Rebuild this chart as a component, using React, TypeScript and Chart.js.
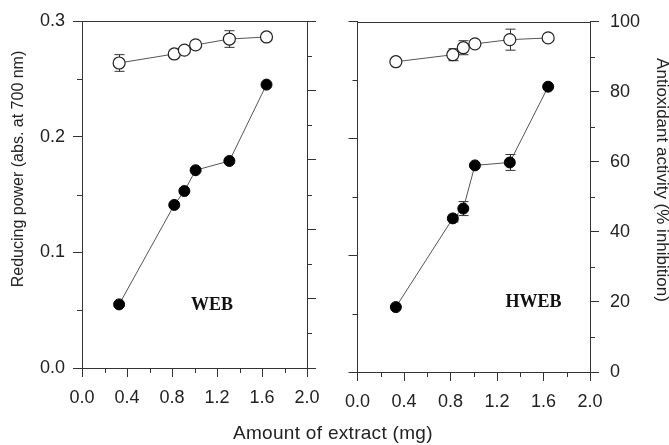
import React, { useEffect, useRef } from "react";
import { Chart, registerables } from "chart.js";

Chart.register(...registerables);

// ---- data ----
const extractAmounts = [0.33, 0.82, 0.91, 1.01, 1.31, 1.64];

const webReducing = [0.055, 0.141, 0.153, 0.171, 0.179, 0.245];
const webReducingErr = [0, 0, 0, 0, 0, 0];
const webAntioxidant = [87.9, 90.5, 91.6, 93.1, 94.8, 95.4];
const webAntioxidantErr = [2.4, 0, 0, 0, 2.4, 0];

const hwebReducing = [0.0556, 0.1316, 0.14, 0.177, 0.1795, 0.2444];
const hwebReducingErr = [0, 0.003, 0.006, 0, 0.0068, 0];
const hwebAntioxidant = [88.6, 90.6, 92.6, 93.7, 94.9, 95.4];
const hwebAntioxidantErr = [0, 1.7, 2.0, 0, 3.0, 0];

const xTicks = [0, 0.4, 0.8, 1.2, 1.6, 2.0];
const xMinorTicks = [0.2, 0.6, 1.0, 1.4, 1.8];
const reducingTicks = [0, 0.1, 0.2, 0.3];
const reducingMinorTicks = [0.05, 0.15, 0.25];
const antioxTicks = [0, 20, 40, 60, 80, 100];
const antioxMinorTicks = [10, 30, 50, 70, 90];

const panelNames = ["WEB", "HWEB"];

// ---- styling ----
const AXIS = "#333";
const LINE = "#555";
const SANS = "'Liberation Sans', Arial, Helvetica, sans-serif";
const SERIF = "'Liberation Serif', 'Times New Roman', serif";

type PanelSpec = {
  name: string;
  reducing: number[];
  reducingErr: number[];
  antiox: number[];
  antioxErr: number[];
  leftLabels: boolean;
  rightLabels: boolean;
  leftW: number;
  rightW: number;
  xH: number;
  labelAt: [number, number];
};

function makeDecorPlugin(spec: PanelSpec) {
  const errs = [spec.reducingErr, spec.antioxErr];
  return {
    id: "panelDecor",
    beforeDatasetsDraw(chart: any) {
      const ctx = chart.ctx;
      const xs = chart.scales.x;
      ctx.save();
      ctx.strokeStyle = AXIS;
      ctx.lineWidth = 1;
      chart.data.datasets.forEach((ds: any, i: number) => {
        const ys = chart.scales[ds.yAxisID];
        const e = errs[i];
        ds.data.forEach((p: any, j: number) => {
          const err = e[j];
          if (!err) return;
          const px = Math.round(xs.getPixelForValue(p.x)) + 0.5;
          const t = ys.getPixelForValue(p.y + err);
          const b = ys.getPixelForValue(p.y - err);
          ctx.beginPath();
          ctx.moveTo(px, t);
          ctx.lineTo(px, b);
          ctx.moveTo(px - 5, t);
          ctx.lineTo(px + 5, t);
          ctx.moveTo(px - 5, b);
          ctx.lineTo(px + 5, b);
          ctx.stroke();
        });
      });
      ctx.restore();
    },
    afterDraw(chart: any) {
      const ctx = chart.ctx;
      const a = chart.chartArea;
      const xs = chart.scales.x;
      const y1 = chart.scales.y;
      const y2 = chart.scales.y2;
      ctx.save();
      ctx.strokeStyle = AXIS;
      ctx.lineWidth = 1;
      ctx.beginPath();
      // top frame line
      const top = Math.round(a.top) + 0.5;
      ctx.moveTo(a.left, top);
      ctx.lineTo(a.right, top);
      // minor ticks
      const L = 5;
      xMinorTicks.forEach((v) => {
        const px = Math.round(xs.getPixelForValue(v)) + 0.5;
        ctx.moveTo(px, a.bottom);
        ctx.lineTo(px, a.bottom + L);
      });
      reducingMinorTicks.forEach((v) => {
        const py = Math.round(y1.getPixelForValue(v)) + 0.5;
        ctx.moveTo(a.left, py);
        ctx.lineTo(a.left - L, py);
      });
      antioxMinorTicks.forEach((v) => {
        const py = Math.round(y2.getPixelForValue(v)) + 0.5;
        ctx.moveTo(a.right, py);
        ctx.lineTo(a.right + L, py);
      });
      ctx.stroke();
      // panel label
      ctx.fillStyle = "#111";
      ctx.font = `bold 18px ${SERIF}`;
      ctx.textAlign = "center";
      ctx.textBaseline = "middle";
      ctx.fillText(
        spec.name,
        xs.getPixelForValue(spec.labelAt[0]),
        y1.getPixelForValue(spec.labelAt[1])
      );
      ctx.restore();
    },
  };
}

function makeChart(canvas: HTMLCanvasElement, spec: PanelSpec) {
  const tickFont = { family: SANS, size: 18 };
  return new Chart(canvas, {
    type: "line",
    data: {
      datasets: [
        {
          label: "Reducing power",
          yAxisID: "y",
          data: extractAmounts.map((x, i) => ({ x, y: spec.reducing[i] })),
          borderColor: LINE,
          borderWidth: 1,
          pointRadius: 5.5,
          pointBackgroundColor: "#000",
          pointBorderColor: "#000",
          pointBorderWidth: 1,
          showLine: true,
          fill: false,
          tension: 0,
        },
        {
          label: "Antioxidant activity",
          yAxisID: "y2",
          data: extractAmounts.map((x, i) => ({ x, y: spec.antiox[i] })),
          borderColor: LINE,
          borderWidth: 1,
          pointRadius: 6,
          pointBackgroundColor: "#fff",
          pointBorderColor: "#222",
          pointBorderWidth: 1.2,
          showLine: true,
          fill: false,
          tension: 0,
        },
      ],
    },
    options: {
      animation: false,
      responsive: false,
      devicePixelRatio: 1,
      clip: false as any,
      layout: { padding: { top: 21, left: 0, right: 0, bottom: 0 } },
      plugins: {
        legend: { display: false },
        tooltip: { enabled: false },
        title: { display: false },
      },
      scales: {
        x: {
          type: "linear",
          position: "bottom",
          min: 0,
          max: 2,
          afterBuildTicks: (s: any) => {
            s.ticks = xTicks.map((v) => ({ value: v }));
          },
          afterFit: (s: any) => {
            s.height = spec.xH;
          },
          ticks: {
            font: tickFont,
            color: "#222",
            padding: 10,
            maxRotation: 0,
            autoSkip: false,
            callback: (v: any) => Number(v).toFixed(1),
          },
          grid: {
            drawOnChartArea: false,
            drawTicks: true,
            tickLength: 9,
            color: AXIS,
          },
          border: { display: true, color: AXIS, width: 1 },
        },
        y: {
          type: "linear",
          position: "left",
          min: 0,
          max: 0.3,
          afterBuildTicks: (s: any) => {
            s.ticks = reducingTicks.map((v) => ({ value: v }));
          },
          afterFit: (s: any) => {
            s.width = spec.leftW;
          },
          ticks: {
            display: spec.leftLabels,
            font: tickFont,
            color: "#222",
            padding: 8,
            autoSkip: false,
            callback: (v: any) => Number(v).toFixed(1),
          },
          grid: {
            drawOnChartArea: false,
            drawTicks: true,
            tickLength: 9,
            color: AXIS,
          },
          border: { display: true, color: AXIS, width: 1 },
        },
        y2: {
          type: "linear",
          position: "right",
          min: 0,
          max: 100,
          afterBuildTicks: (s: any) => {
            s.ticks = antioxTicks.map((v) => ({ value: v }));
          },
          afterFit: (s: any) => {
            s.width = spec.rightW;
          },
          ticks: {
            display: spec.rightLabels,
            font: tickFont,
            color: "#222",
            padding: 11,
            autoSkip: false,
            callback: (v: any) => String(v),
          },
          grid: {
            drawOnChartArea: false,
            drawTicks: true,
            tickLength: 9,
            color: AXIS,
          },
          border: { display: true, color: AXIS, width: 1 },
        },
      },
    } as any,
    plugins: [makeDecorPlugin(spec)],
  });
}

export default function App() {
  const refA = useRef<HTMLCanvasElement | null>(null);
  const refB = useRef<HTMLCanvasElement | null>(null);

  useEffect(() => {
    const a = makeChart(refA.current!, {
      name: panelNames[0],
      reducing: webReducing,
      reducingErr: webReducingErr,
      antiox: webAntioxidant,
      antioxErr: webAntioxidantErr,
      leftLabels: true,
      rightLabels: false,
      leftW: 82,
      rightW: 28,
      xH: 77,
      labelAt: [1.156, 0.0545],
    });
    const b = makeChart(refB.current!, {
      name: panelNames[1],
      reducing: hwebReducing,
      reducingErr: hwebReducingErr,
      antiox: hwebAntioxidant,
      antioxErr: hwebAntioxidantErr,
      leftLabels: false,
      rightLabels: true,
      leftW: 20,
      rightW: 79,
      xH: 73,
      labelAt: [1.515, 0.0598],
    });
    return () => {
      a.destroy();
      b.destroy();
    };
  }, []);

  const titleBase: React.CSSProperties = {
    position: "absolute",
    width: 300,
    height: 20,
    lineHeight: "20px",
    fontFamily: SANS,
    fontSize: 16,
    color: "#222",
    textAlign: "center",
    whiteSpace: "nowrap",
  };

  return (
    <div
      style={{
        position: "absolute",
        left: 0,
        top: 0,
        width: 669,
        height: 445,
        background: "#fff",
        overflow: "hidden",
      }}
    >
      <canvas
        ref={refA}
        width={335}
        height={445}
        style={{ position: "absolute", left: 0, top: 0, width: 335, height: 445 }}
      />
      <canvas
        ref={refB}
        width={334}
        height={445}
        style={{ position: "absolute", left: 335, top: 0, width: 334, height: 445 }}
      />
      <div
        style={{
          ...titleBase,
          left: 18 - 150,
          top: 169 - 10,
          transform: "rotate(-90deg)",
        }}
      >
        Reducing power (abs. at 700 nm)
      </div>
      <div
        style={{
          ...titleBase,
          fontSize: 17,
          left: 662 - 150,
          top: 180 - 10,
          transform: "rotate(90deg)",
        }}
      >
        Antioxidant activity (% inhibition)
      </div>
      <div
        style={{
          position: "absolute",
          left: 233,
          top: 423,
          height: 19,
          lineHeight: "19px",
          fontFamily: SANS,
          fontSize: 19,
          letterSpacing: "0.3px",
          color: "#222",
          whiteSpace: "nowrap",
        }}
      >
        Amount of extract (mg)
      </div>
    </div>
  );
}
